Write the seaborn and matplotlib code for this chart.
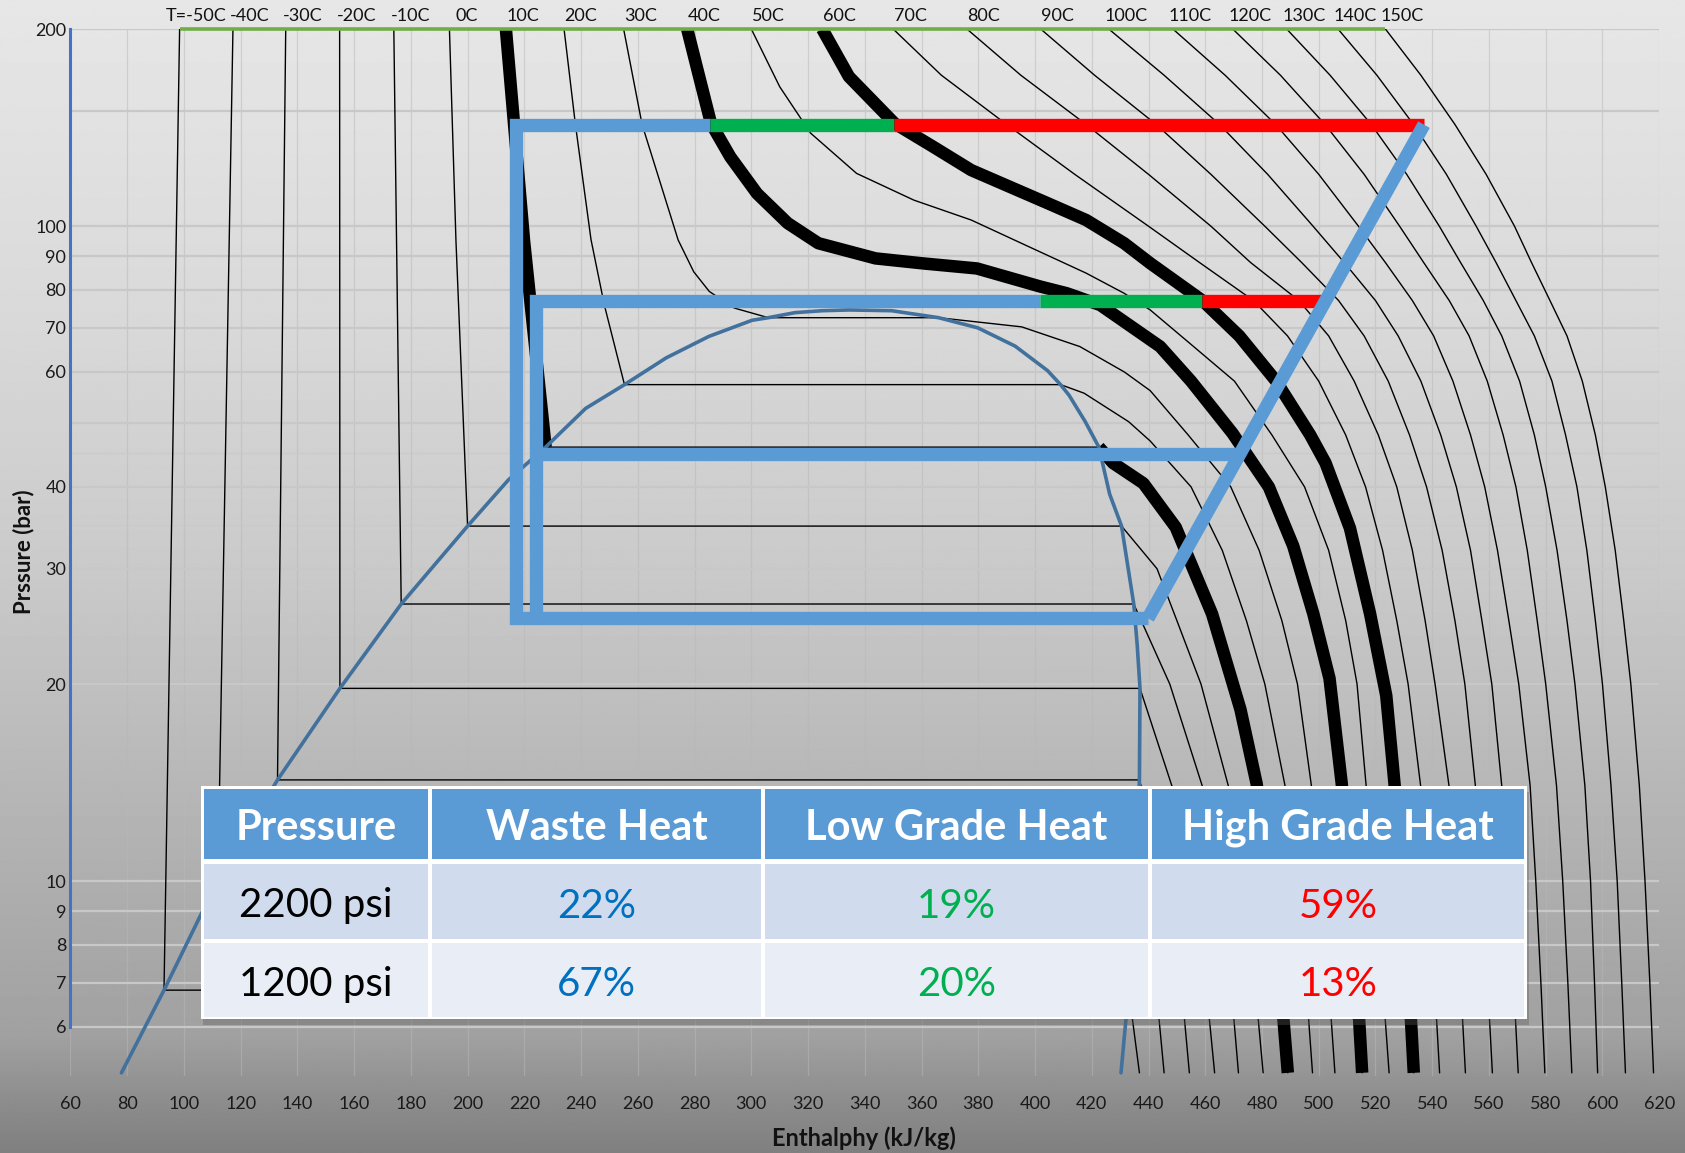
import numpy as np
import pandas as pd
import matplotlib
matplotlib.use("Agg")
import matplotlib.pyplot as plt
import seaborn as sns
from matplotlib.patches import Rectangle
from matplotlib.ticker import FixedLocator, NullLocator, NullFormatter

# ---------------------------------------------------------------- data
# CO2 isotherms as (pressure [bar], enthalpy [kJ/kg]) points, top to bottom.
# Two consecutive points at the same pressure mark the two-phase plateau.
ISO_M50 = [(200, 98.5), (6.82, 93.0), (6.82, 433.0), (5.1, 436.8)]
ISO_M40 = [(200, 117.3), (10.05, 112.0), (10.05, 435.3), (7, 442.5), (5.1, 445.5)]
ISO_M30 = [(200, 135.9), (14.28, 133.0), (14.28, 436.8), (10, 446.5), (7, 451.5), (5.1, 454.4)]
ISO_M20 = [(200, 154.9), (19.7, 155.0), (19.7, 437.0), (14, 448.2), (10, 455.5), (7, 460.2),
           (5.1, 463.3)]
ISO_M10 = [(200, 174.0), (26.5, 176.6), (26.5, 434.8), (20, 447.5), (14, 458.9), (10, 464.5),
           (7, 469.0), (5.1, 471.7)]
ISO_0 = [(200, 193.6), (95, 195.9), (34.85, 200.0), (34.85, 430.5), (30, 443.0), (25, 450.0),
         (20, 458.5), (14, 468.1), (10, 473.5), (7, 477.5), (5.1, 480.4)]
ISO_10 = [(200, 213.5), (95, 219.9), (46.0, 227.5), (46.0, 422.5), (43.5, 427.5), (40.5, 438.2),
          (34.7, 449.6), (25.6, 462.4), (18.3, 472.4), (14.1, 478.1), (10, 482.8), (7, 486.5),
          (5.1, 489.1)]
ISO_20 = [(200, 234.0), (143, 238.0), (95.4, 243.5), (75.8, 248.2), (57.3, 255.3), (57.3, 409.0),
          (55.6, 417.3), (50.3, 433.0), (47, 440.6), (40, 455.0), (32, 466.0), (25, 474.5),
          (20, 481.0), (14, 488.1), (10, 492.0), (7, 495.5), (5.1, 497.8)]
ISO_30 = [(200, 255.0), (143, 261.5), (95.3, 274.2), (85.2, 279.7), (79.5, 285.2), (75, 294.0),
          (72.5, 306.0), (72.5, 366.0), (70.2, 395.3), (65.5, 415.8), (59.9, 431.5), (56.1, 440.6),
          (48, 454.0), (40, 469.0), (32, 479.0), (25, 487.0), (20, 492.5), (14, 497.4),
          (10, 500.8), (7, 503.5), (5.1, 505.7)]
ISO_40 = [(200, 277.4), (170, 281.5), (143.5, 285.8), (127.6, 292.6), (112.2, 302.0),
          (101.1, 312.8), (94.2, 323.6), (89.3, 343.8), (87.7, 361.0), (86.2, 379.5),
          (80.9, 401.8), (79.0, 411.2), (75.8, 423.0), (65.5, 444.1), (58.0, 455.0),
          (48.3, 469.6), (40.0, 482.4), (32.5, 491.0), (25.6, 498.1), (20.4, 503.8),
          (14.1, 508.1), (10, 511.0), (7, 513.5), (5.1, 515.3)]
ISO_50 = [(200, 300.0), (163.3, 310.0), (138.7, 320.9), (120.4, 337.1), (109.6, 357.3),
          (102.2, 377.5), (93.1, 397.7), (84.8, 418.0), (79.0, 431.4), (74.5, 440.6), (66, 455.0),
          (58, 470.3), (48, 483.5), (40, 495.0), (32, 503.5), (25, 509.5), (20, 513.5), (14, 516.7),
          (10, 519.8), (7, 522.5), (5.1, 524.8)]
ISO_60 = [(200, 325.0), (169.2, 334.4), (143.5, 350.5), (132.3, 364.0), (121.8, 377.5),
          (114.9, 391.0), (108.4, 404.5), (102.2, 418.0), (94.2, 431.4), (87.8, 440.6),
          (77, 459.0), (68, 472.0), (58, 485.0), (48, 497.0), (43.5, 502.4), (34.6, 511.0),
          (25.6, 518.1), (19.2, 523.8), (14.1, 526.7), (10, 529.5), (7, 531.8), (5.1, 533.5)]

# hotter isotherms share one pressure grid
P_GRID = [200, 170, 143, 120, 100, 88, 77, 68, 58, 48, 40, 32, 25, 20, 14, 10, 7, 5.1]
H_70 = [350, 367, 390, 414, 440, 458, 477, 489, 500, 509.5, 516.5, 522.5, 527.5, 531.5, 535.9,
        538.5, 540.8, 542.6]
H_80 = [376, 395, 418, 440, 462, 476, 493, 503.5, 512.5, 521, 527.5, 533, 537.5, 541, 545.9,
        548, 550, 551.7]
H_90 = [402, 421, 442.7, 462, 481, 494, 507, 516, 524.5, 532, 538, 543.5, 548, 551.5, 555.2,
        557.5, 559.5, 561.2]
H_100 = [426, 445.5, 465, 482, 498, 509, 520, 528, 536, 543, 548.5, 553.5, 557.5, 561, 564.5,
         566.7, 568.7, 570.3]
H_110 = [448.6, 467, 484.8, 500, 514, 523.5, 533, 540.5, 547.3, 553.5, 558.5, 563, 567, 570.5,
         574.5, 576.5, 578.3, 579.7]
H_120 = [469.7, 486.5, 502.2, 516, 528.5, 537, 546, 553, 559.4, 565, 569.5, 573.5, 577, 580,
         583.8, 586, 587.8, 589.2]
H_130 = [488.7, 504, 518.5, 531, 542.5, 550, 558, 564.5, 570.8, 576, 580, 584, 587.5, 590.3,
         593.8, 595.8, 597.2, 598.3]
H_140 = [506.8, 520.5, 533.4, 545, 555.5, 562.5, 569.5, 576, 582.2, 587, 591, 594.5, 597.5, 600,
         603, 605.2, 606.8, 608.1]
H_150 = [523.5, 536, 548, 559, 569, 575, 581.5, 587.5, 592.9, 597.5, 601, 604.5, 607.5, 610,
         613, 615, 616.7, 618]

THICK_TEMPS = [10, 40, 60]

# saturation dome (enthalpy, pressure)
DOME_H = [78.0, 93.0, 112.0, 133.0, 155.0, 176.6, 200.0, 214.4, 227.5, 241.6, 255.3, 270.0,
          285.1, 300.3, 306.0, 315.4, 325.0, 334.5, 349.5, 366.0, 379.8, 393.0, 404.4, 409.0,
          412.0, 417.6, 422.5, 426.3, 430.5, 432.9, 434.8, 436.0, 437.0, 436.8, 435.3, 433.0,
          430.3]
DOME_P = [5.1, 6.82, 10.05, 14.28, 19.7, 26.5, 34.85, 41.0, 46.0, 52.7, 57.3, 62.95,
          67.9, 71.85, 72.5, 73.8, 74.3, 74.5, 74.3, 72.5, 69.97, 65.6, 60.2, 57.3,
          55.2, 50.4, 46.0, 39.0, 34.85, 29.9, 26.5, 23.0, 19.7, 14.28, 10.05, 6.82,
          5.1]

# heat-pump cycles (enthalpy break points, pressures)
P_HIGH, P_MID, P_EVAP_HI, P_LOW = 142.9, 76.9, 44.9, 25.2
H_OUT_LEFT, H_IN_LEFT = 217.1, 224.0
H_COMP_START = 439.8
HIGH_SPLIT = [217.1, 285.3, 350.4, 537.1]   # waste | low grade | high grade
MID_SPLIT = [224.0, 401.9, 458.7, 501.0]
H_EVAP_END = 471.0

# table
TABLE_HEAD = ["Pressure", "Waste Heat", "Low Grade Heat", "High Grade Heat"]
TABLE_ROWS = [["2200 psi", "22%", "19%", "59%"],
              ["1200 psi", "67%", "20%", "13%"]]

X_TICKS = list(range(60, 621, 20))
Y_TICKS = [200, 100, 90, 80, 70, 60, 40, 30, 20, 10, 9, 8, 7, 6]
Y_GRID = [200, 150, 100, 90, 80, 70, 60, 50, 40, 30, 20, 10, 9, 8, 7, 6]
Y_GRID_FAINT = [45, 35]

# ---------------------------------------------------------------- build
isotherms = [(-50, ISO_M50), (-40, ISO_M40), (-30, ISO_M30), (-20, ISO_M20), (-10, ISO_M10),
             (0, ISO_0), (10, ISO_10), (20, ISO_20), (30, ISO_30), (40, ISO_40), (50, ISO_50),
             (60, ISO_60)]
for t, hs in [(70, H_70), (80, H_80), (90, H_90), (100, H_100), (110, H_110), (120, H_120),
              (130, H_130), (140, H_140), (150, H_150)]:
    isotherms.append((t, list(zip(P_GRID, hs))))

rows = []
thick_rows = []
for t, pts in isotherms:
    for i, (p, h) in enumerate(pts):
        rows.append(dict(T=t, order=i, p=p, h=h))
    if t in THICK_TEMPS:
        split = None
        for i in range(len(pts) - 1):
            if pts[i][0] == pts[i + 1][0]:
                split = i
        branches = [pts] if split is None else [pts[:split + 1], pts[split + 1:]]
        for b, br in enumerate(branches):
            for i, (p, h) in enumerate(br):
                thick_rows.append(dict(seg=f"{t}_{b}", order=i, p=p, h=h))
iso_df = pd.DataFrame(rows)
thick_df = pd.DataFrame(thick_rows)
top_h = {t: pts[0][1] for t, pts in isotherms}

# ---------------------------------------------------------------- style
sns.set_style("white")
plt.rcParams["font.family"] = ["Lato", "DejaVu Sans"]

W, H = 1685, 1153
fig = plt.figure(figsize=(W / 100, H / 100), dpi=100)

# grey gradient backdrop
bg = fig.add_axes([0, 0, 1, 1], zorder=-10)
yy = np.linspace(0, 1, 800)
shade = np.interp(yy, [0, 0.28, 0.5, 0.65, 0.8, 0.9, 0.95, 1.0],
                  [0.905, 0.85, 0.79, 0.73, 0.67, 0.63, 0.56, 0.50])
bg.imshow(np.repeat(shade[:, None], 4, axis=1), cmap="gray", vmin=0, vmax=1,
          aspect="auto", extent=[0, 1, 0, 1], origin="upper", interpolation="bilinear")
bg.set_axis_off()

ax = fig.add_axes([0.04177, 0.06710, 0.94292, 0.90774])
ax.patch.set_alpha(0)
ax.set_yscale("log")
ax.set_xlim(60, 620)
ax.set_ylim(5.05, 200)

# grid
for x in X_TICKS:
    ax.axvline(x, color="#b8b8b8", lw=0.9, alpha=0.5, zorder=0.5)
for y in Y_GRID:
    ax.axhline(y, color="#c8c8c8", lw=1.6, zorder=0.6)
for y in Y_GRID_FAINT:
    ax.axhline(y, color="#c8c8c8", lw=1.0, alpha=0.6, zorder=0.6)

# isotherms
sns.lineplot(data=iso_df, x="h", y="p", units="T", estimator=None, sort=False,
             color="black", linewidth=1.0, ax=ax, legend=False, zorder=2)
sns.lineplot(data=thick_df, x="h", y="p", units="seg", estimator=None, sort=False,
             color="black", linewidth=9.0, ax=ax, legend=False, zorder=2.5,
             solid_capstyle="butt")

# saturation dome
sns.lineplot(x=DOME_H, y=DOME_P, sort=False, color="#41719C", linewidth=2.6, ax=ax,
             zorder=3)

# 200 bar boundary
ax.plot([top_h[-50], top_h[150]], [200, 200], color="#70AD47", lw=2.6, zorder=3,
        clip_on=False, solid_capstyle="butt")

# isotherm labels
for t, pts in isotherms:
    label = f"T={t}C" if t == -50 else f"{t}C"
    ax.annotate(label, xy=(top_h[t], 200), xytext=(17, 13), textcoords="offset pixels",
                ha="center", va="center", fontsize=13, color="#111111",
                annotation_clip=False)

# cycles
BLUE, GREEN, RED = "#5B9BD5", "#00B050", "#FF0000"
LW = 9.6
kw = dict(lw=LW, solid_capstyle="butt", solid_joinstyle="miter", zorder=5)
ax.plot([HIGH_SPLIT[1], H_OUT_LEFT, H_OUT_LEFT, H_COMP_START],
        [P_HIGH, P_HIGH, P_LOW, P_LOW], color=BLUE, **kw)
ax.plot([MID_SPLIT[1], H_IN_LEFT, H_IN_LEFT], [P_MID, P_MID, P_LOW], color=BLUE, **kw)
ax.plot([H_IN_LEFT, H_EVAP_END], [P_EVAP_HI, P_EVAP_HI], color=BLUE, **kw)
ax.plot(HIGH_SPLIT[1:3], [P_HIGH, P_HIGH], color=GREEN, **kw)
ax.plot(HIGH_SPLIT[2:4], [P_HIGH, P_HIGH], color=RED, **kw)
ax.plot(MID_SPLIT[1:3], [P_MID, P_MID], color=GREEN, **kw)
ax.plot(MID_SPLIT[2:4], [P_MID, P_MID], color=RED, **kw)
kw["zorder"] = 5.5
ax.plot([H_COMP_START, HIGH_SPLIT[3]], [P_LOW, P_HIGH], color=BLUE, **kw)

# axes decoration
ax.xaxis.set_major_locator(FixedLocator(X_TICKS))
ax.set_xticklabels([str(v) for v in X_TICKS])
ax.yaxis.set_major_locator(FixedLocator(Y_TICKS))
ax.set_yticklabels([str(v) for v in Y_TICKS])
ax.yaxis.set_minor_locator(NullLocator())
ax.yaxis.set_minor_formatter(NullFormatter())
ax.tick_params(axis="both", length=0, labelsize=13, labelcolor="#1a1a1a")
ax.tick_params(axis="x", pad=15)
ax.tick_params(axis="y", pad=3)
ax.set_xlabel("")
ax.set_ylabel("")
for side in ["top", "right", "bottom"]:
    ax.spines[side].set_visible(False)
ax.spines["left"].set_color("#4472C4")
ax.spines["left"].set_linewidth(2.2)
ax.spines["left"].set_bounds(6, 200)
ax.spines["left"].set_zorder(4)

fig.text(0.0140, 0.5219, "Prssure (bar)", rotation=90, ha="center", va="center",
         fontsize=16, fontweight="bold", color="#111111")
fig.text(0.5128, 0.0125, "Enthalphy (kJ/kg)", ha="center", va="center",
         fontsize=17, fontweight="bold", color="#111111")

# ---------------------------------------------------------------- table
tx0, tx1, ty0, ty1 = 201, 1527, 785.5, 1019.4
tab = fig.add_axes([tx0 / W, 1 - ty1 / H, (tx1 - tx0) / W, (ty1 - ty0) / H], zorder=20)
tw, th = tx1 - tx0, ty1 - ty0
tab.set_xlim(0, tw)
tab.set_ylim(th, 0)
tab.set_axis_off()
tab.add_patch(Rectangle((2, 6), tw, th, facecolor="#5a5a5a", alpha=0.35, lw=0,
                        clip_on=False, zorder=0))
tab.add_patch(Rectangle((0, 0), tw, th, facecolor="white", lw=0, zorder=1))
col_edges = [(3, 227), (231, 560), (564, 947), (951, 1323)]
row_edges = [(3, 73), (78, 153), (157, 231)]
row_fill = ["#5B9BD5", "#D0DCEE", "#E9EEF6"]
val_colors = ["black", "#0070C0", "#00B050", "#FF0000"]
for r, (ya, yb) in enumerate(row_edges):
    for c, (xa, xb) in enumerate(col_edges):
        tab.add_patch(Rectangle((xa, ya), xb - xa, yb - ya, facecolor=row_fill[r], lw=0,
                                zorder=2))
        cx, cy = (xa + xb) / 2, (ya + yb) / 2
        if r == 0:
            tab.text(cx, cy + 4, TABLE_HEAD[c], ha="center", va="center", fontsize=30,
                     fontweight="bold", color="white", zorder=3)
        else:
            tab.text(cx, cy + 5, TABLE_ROWS[r - 1][c], ha="center", va="center",
                     fontsize=29, color=val_colors[c], zorder=3)

fig.savefig("out.png", dpi=100)
